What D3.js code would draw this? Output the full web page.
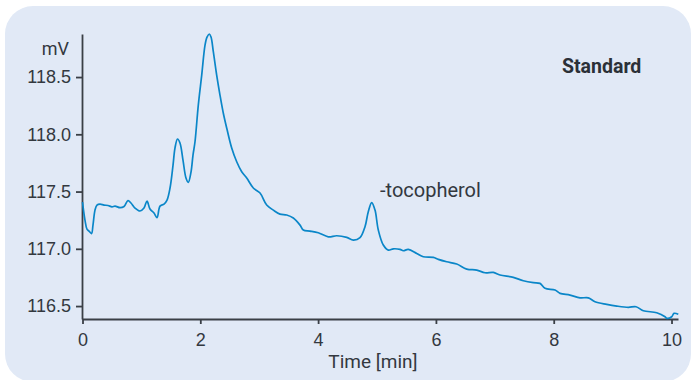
<!DOCTYPE html>
<html>
<head>
<meta charset="utf-8">
<script src="https://cdn.jsdelivr.net/npm/d3@7"></script>
<style>
  body { margin: 0; background: #fff; }
  svg { display: block; font-family: Roboto, "Liberation Sans", sans-serif; }
  .axis path, .axis line { stroke: #3a3f46; stroke-width: 1.8; }
  .axis text { fill: #33383f; font-size: 18px; }
</style>
</head>
<body>
<svg width="691" height="380"></svg>
<script>
// chromatogram trace (time in min, signal in mV)
const timeMin = [0.0, 0.042, 0.076, 0.110, 0.153, 0.178, 0.212, 0.246, 0.297, 0.365,
  0.433, 0.501, 0.552, 0.637, 0.705, 0.772, 0.823, 0.891, 0.976, 1.044,
  1.095, 1.146, 1.214, 1.265, 1.316, 1.384, 1.435, 1.486, 1.537, 1.570,
  1.613, 1.655, 1.706, 1.757, 1.796, 1.842, 1.876, 1.910, 1.966, 2.024,
  2.080, 2.114, 2.153, 2.182, 2.221, 2.278, 2.334, 2.390, 2.448, 2.533,
  2.618, 2.703, 2.788, 2.900, 3.014, 3.127, 3.239, 3.353, 3.467, 3.579,
  3.693, 3.749, 3.862, 4.003, 4.173, 4.316, 4.486, 4.598, 4.711, 4.796,
  4.852, 4.910, 4.966, 5.022, 5.107, 5.192, 5.277, 5.390, 5.446, 5.531,
  5.674, 5.786, 5.956, 6.041, 6.183, 6.353, 6.523, 6.693, 6.834, 6.975,
  7.088, 7.314, 7.484, 7.654, 7.767, 7.852, 8.022, 8.107, 8.277, 8.447,
  8.587, 8.701, 8.900, 9.070, 9.267, 9.397, 9.521, 9.749, 9.890, 9.918,
  10.003, 10.042, 10.115];
const signalMv = [117.408, 117.251, 117.172, 117.155, 117.133, 117.207, 117.338, 117.382, 117.391, 117.382,
  117.378, 117.367, 117.373, 117.359, 117.369, 117.421, 117.400, 117.356, 117.330, 117.356,
  117.417, 117.347, 117.312, 117.273, 117.373, 117.391, 117.426, 117.531, 117.731, 117.880,
  117.959, 117.924, 117.775, 117.618, 117.580, 117.670, 117.819, 117.935, 118.255, 118.517,
  118.779, 118.849, 118.876, 118.849, 118.721, 118.517, 118.343, 118.186, 118.055, 117.880,
  117.760, 117.673, 117.618, 117.531, 117.487, 117.382, 117.338, 117.303, 117.295, 117.269,
  117.207, 117.164, 117.155, 117.140, 117.105, 117.114, 117.100, 117.076, 117.097, 117.193,
  117.324, 117.404, 117.338, 117.164, 117.033, 116.989, 117.000, 116.995, 116.983, 116.995,
  116.960, 116.931, 116.925, 116.908, 116.887, 116.867, 116.823, 116.814, 116.791, 116.794,
  116.771, 116.751, 116.721, 116.704, 116.698, 116.655, 116.640, 116.611, 116.596, 116.572,
  116.572, 116.538, 116.515, 116.500, 116.489, 116.494, 116.459, 116.442, 116.407, 116.393,
  116.407, 116.436, 116.428];

const xTicks = [0, 2, 4, 6, 8, 10];
const yTicks = [116.5, 117.0, 117.5, 118.0, 118.5];

const svg = d3.select("svg");

// panel background
svg.append("rect")
    .attr("x", 5).attr("y", 6)
    .attr("width", 686).attr("height", 376)
    .attr("rx", 28)
    .style("fill", "#e1e9f6");

const x = d3.scaleLinear().domain([0, 10.11]).range([82.5, 678]);
const y = d3.scaleLinear().domain([116.387, 118.876]).range([319, 34]);

// axes
svg.append("g")
    .attr("class", "axis")
    .attr("transform", "translate(0,319)")
    .call(d3.axisBottom(x).tickValues(xTicks).tickFormat(d3.format("d"))
        .tickSize(5).tickSizeOuter(0).tickPadding(9));

svg.append("g")
    .attr("class", "axis")
    .attr("transform", "translate(82,0)")
    .call(d3.axisLeft(y).tickValues(yTicks).tickFormat(d3.format(".1f"))
        .tickSize(6).tickSizeOuter(0).tickPadding(5));

// trace
const data = timeMin.map((t, i) => ({t: t, v: signalMv[i]}));
svg.append("path")
    .datum(data)
    .attr("d", d3.line().x(d => x(d.t)).y(d => y(d.v)).curve(d3.curveCatmullRom))
    .style("fill", "none")
    .style("stroke", "#0a86c8")
    .style("stroke-width", 1.7);

// labels
svg.append("text")
    .attr("x", 69).attr("y", 55)
    .attr("text-anchor", "end")
    .style("font-size", "18px").style("fill", "#33383f")
    .text("mV");

svg.append("text")
    .attr("x", 373).attr("y", 368)
    .attr("text-anchor", "middle")
    .style("font-size", "19px").style("fill", "#33383f")
    .text("Time [min]");

svg.append("text")
    .attr("x", 380).attr("y", 197)
    .style("font-size", "20px").style("fill", "#33383f")
    .text("-tocopherol");

svg.append("text")
    .attr("x", 562).attr("y", 73)
    .style("font-size", "19.5px").style("font-weight", "bold").style("fill", "#2b3037")
    .text("Standard");
</script>
</body>
</html>
